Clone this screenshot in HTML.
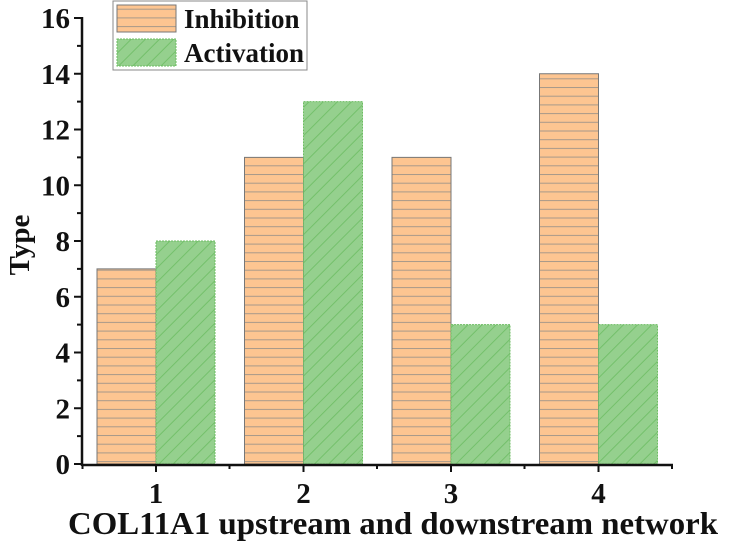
<!DOCTYPE html>
<html><head><meta charset="utf-8"><style>
body{margin:0;background:#fff;}
svg text{font-family:"Liberation Serif",serif;font-weight:bold;fill:#111;}
</style></head><body>
<svg width="739" height="544">
<defs>
<pattern id="hp" patternUnits="userSpaceOnUse" width="10" height="8.7"><rect width="10" height="8.7" fill="#fdc591"/><line x1="0" y1="0.5" x2="10" y2="0.5" stroke="#a8998a" stroke-width="1"/></pattern>
<pattern id="dp" patternUnits="userSpaceOnUse" width="10" height="10" patternTransform="rotate(-45)"><rect width="10" height="10" fill="#95d08e"/><line x1="0" y1="0.5" x2="10" y2="0.5" stroke="#6cbc62" stroke-width="0.8"/></pattern>
</defs>
<g id="plot"></g>
<g>
<rect x="113" y="1" width="194" height="69" fill="#fff" stroke="#888"/>
<rect x="117" y="5" width="59" height="27" fill="url(#hp)" stroke="#777"/>
<text x="184" y="28" font-size="27">Inhibition</text>
<rect x="117" y="39" width="59" height="27" fill="url(#dp)" stroke="#6cbc62" stroke-dasharray="2,1"/>
<text x="184" y="62" font-size="27">Activation</text>
</g>
<text x="393" y="534" font-size="32" text-anchor="middle" textLength="650" lengthAdjust="spacingAndGlyphs">COL11A1 upstream and downstream network</text>
<text transform="translate(29,245) rotate(-90)" font-size="29" text-anchor="middle">Type</text>
</svg>
<script>
const categories=[1,2,3,4];
const inhibition=[7,11,11,14];
const activation=[8,13,5,5];
const yTicks=[0,2,4,6,8,10,12,14,16];
const NS='http://www.w3.org/2000/svg';
const g=document.getElementById('plot');
const y=v=>464-v*27.875;
const x=c=>156+(c-1)*147.5;
const bw=59;
function mk(t,a,p){const e=document.createElementNS(NS,t);for(const k in a)e.setAttribute(k,a[k]);(p||g).appendChild(e);return e;}
categories.forEach((c,i)=>{
 let r=mk('rect',{x:x(c)-bw,y:y(inhibition[i]),width:bw,height:y(0)-y(inhibition[i]),fill:'url(#hp)',stroke:'#777','stroke-width':1});
 
 
 let r2=mk('rect',{x:x(c),y:y(activation[i]),width:bw,height:y(0)-y(activation[i]),fill:'url(#dp)',stroke:'#6cbc62','stroke-width':1,'stroke-dasharray':'2,1'});
 
 
 mk('line',{x1:x(c),y1:464,x2:x(c),y2:472,stroke:'#111','stroke-width':2});
 let t=mk('text',{x:x(c),y:503,'font-size':29,'text-anchor':'middle'});t.textContent=c;
 
 
});
[82.5,229.5,377,524.5,672].forEach(v=>mk('line',{x1:v,y1:464,x2:v,y2:469,stroke:'#111','stroke-width':2}));
const ax=mk('line',{x1:82,y1:465,x2:673,y2:465,stroke:'#111','stroke-width':2.5});


const ay=mk('line',{x1:82,y1:17,x2:82,y2:466,stroke:'#111','stroke-width':2.5});


yTicks.forEach(v=>{
 mk('line',{x1:74,y1:y(v),x2:82,y2:y(v),stroke:'#111','stroke-width':2});
 if(v<16)mk('line',{x1:77,y1:y(v+1),x2:82,y2:y(v+1),stroke:'#111','stroke-width':2});
 let t=mk('text',{x:70,y:y(v)+10,'font-size':29,'text-anchor':'end'});t.textContent=v;
 
 
});
</script>
</body></html>
